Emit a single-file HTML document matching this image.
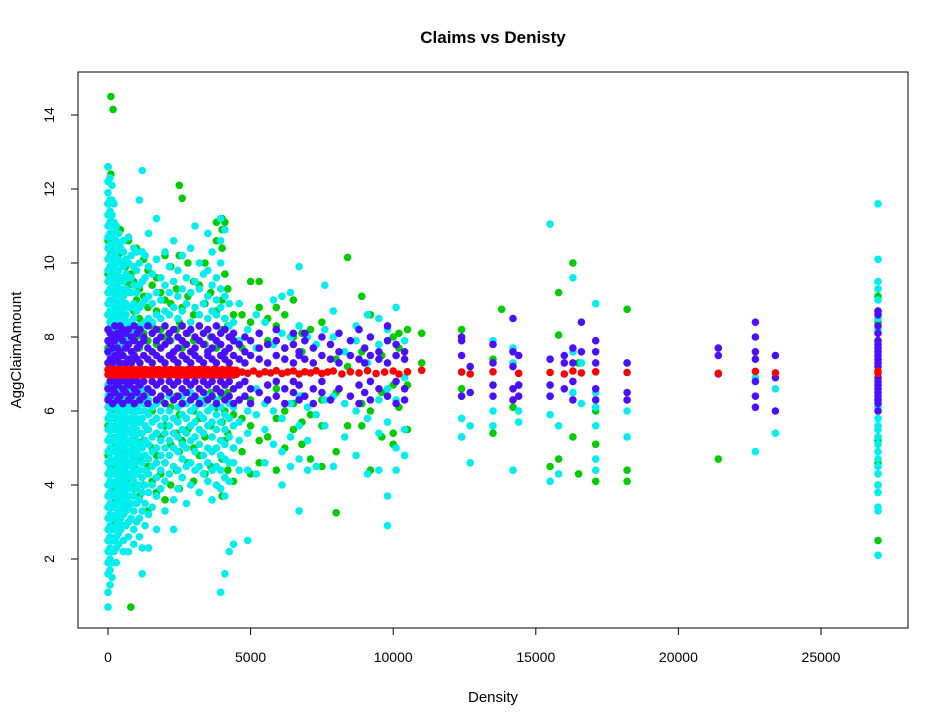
<!DOCTYPE html>
<html><head><meta charset="utf-8"><title>Claims vs Denisty</title>
<style>html,body{margin:0;padding:0;background:#fff;}svg{display:block;font-family:"Liberation Sans",Arial,sans-serif;}</style>
</head><body>
<svg id="chart" width="947" height="719" viewBox="0 0 947 719" xmlns="http://www.w3.org/2000/svg">
<rect x="0" y="0" width="947" height="719" fill="#fff"/>
<text x="493" y="43" text-anchor="middle" font-size="17" font-weight="bold">Claims vs Denisty</text>
<g id="pts"></g>
<rect x="78" y="72" width="830" height="556" fill="none" stroke="#000" stroke-width="1"/>
<g id="axes"></g>
<text x="493" y="702" text-anchor="middle" font-size="15">Density</text>
<text x="0" y="0" transform="translate(21,350) rotate(-90)" text-anchor="middle" font-size="15">AggClaimAmount</text>
</svg>
<script>
const xTicks = [0, 5000, 10000, 15000, 20000, 25000];
const yTicks = [2, 4, 6, 8, 10, 12, 14];
// column-based data: density value and list of AggClaimAmount values at that density
const cyanX = [0,70,140,210,290,370,450,540,630,720,810,900,1000,1100,1200,1300,1420,1550,1700,1850,2000,2150,2300,2450,2600,2750,2900,3050,3200,3350,3500,3650,3800,3950,4100,4250,4400,4600,4900,5200,5500,5800,6100,6400,6700,7000,7300,7600,7900,8300,8700,9100,9500,9800,10100,10400,12400,12700,13500,14200,14400,15500,15800,16300,16600,17100,18200,22700,23400,27000];
const cyanY = [
[0.7,1.1,1.6,1.9,2.2,2.5,2.8,3.1,3.4,3.7,4.0,4.3,4.6,4.9,5.2,5.5,5.8,6.1,6.4,6.7,7.3,7.6,7.9,8.2,8.6,8.9,9.2,9.5,9.8,10.1,10.4,10.7,11.0,11.3,11.6,11.9,12.2,12.6],
[1.3,1.7,2.0,2.3,2.6,2.9,3.2,3.5,3.8,4.1,4.4,4.7,5.0,5.3,5.6,5.9,6.2,6.5,6.8,7.5,7.8,8.1,8.4,8.7,9.0,9.3,9.6,9.9,10.2,10.5,10.8,11.1,11.4,11.7,12.3],
[1.5,1.9,2.2,2.5,2.8,3.1,3.4,3.7,4.0,4.3,4.6,4.9,5.2,5.5,5.8,6.1,6.4,6.7,7.4,7.7,8.0,8.3,8.6,8.9,9.2,9.5,9.8,10.1,10.4,10.7,11.0,11.3,11.7,12.1],
[2.2,2.5,2.8,3.1,3.4,3.7,4.0,4.3,4.6,4.9,5.2,5.5,5.8,6.1,6.4,6.7,7.5,7.8,8.1,8.4,8.7,9.0,9.3,9.6,9.9,10.2,10.5,10.8,11.1,11.6],
[1.9,2.3,2.6,2.9,3.2,3.5,3.8,4.1,4.4,4.7,5.0,5.3,5.6,5.9,6.2,6.5,7.6,7.9,8.2,8.5,8.8,9.1,9.4,9.7,10.0,10.3,10.6,11.0],
[2.4,2.7,3.0,3.3,3.6,3.9,4.2,4.5,4.8,5.1,5.4,5.7,6.0,6.3,6.6,7.7,8.0,8.3,8.6,8.9,9.2,9.5,9.8,10.1,10.5,10.8],
[2.8,3.1,3.4,3.7,4.0,4.3,4.6,4.9,5.2,5.5,5.8,6.1,6.4,6.7,7.8,8.1,8.4,8.7,9.0,9.3,9.6,10.0,10.4],
[2.2,2.5,2.9,3.2,3.5,3.8,4.1,4.4,4.7,5.0,5.3,5.6,5.9,6.2,6.5,7.8,8.2,8.5,8.8,9.1,9.5,9.9,10.3,10.6],
[2.9,3.3,3.6,3.9,4.2,4.5,4.8,5.1,5.4,5.7,6.0,6.3,6.6,7.9,8.3,8.6,8.9,9.3,9.7,10.1],
[2.2,2.6,3.0,3.4,3.7,4.0,4.3,4.6,4.9,5.2,5.5,5.8,6.1,6.4,7.9,8.4,8.8,9.2,9.6,10.0,10.7],
[3.1,3.5,3.9,4.2,4.5,4.8,5.1,5.4,5.7,6.0,6.3,6.6,8.0,8.4,8.8,9.2,9.6,10.2],
[2.4,2.8,3.3,3.7,4.1,4.4,4.7,5.0,5.3,5.6,5.9,6.2,6.5,8.1,8.5,8.9,9.4,9.9,10.4],
[3.0,3.5,3.9,4.3,4.6,4.9,5.2,5.5,5.8,6.1,6.4,8.2,8.7,9.2,9.8,10.3],
[2.6,3.1,3.6,4.0,4.4,4.8,5.1,5.4,5.7,6.0,6.3,8.3,8.8,9.4,10.0,11.7],
[1.6,2.3,3.3,3.8,4.2,4.6,5.0,5.4,5.8,6.2,6.6,8.3,8.9,9.5,10.3,12.5],
[2.9,3.5,4.0,4.4,4.8,5.2,5.6,6.0,6.4,8.4,9.0,9.6,10.2],
[2.3,3.2,3.8,4.3,4.7,5.1,5.5,5.9,6.3,8.5,9.1,9.9,10.8],
[3.4,4.0,4.5,4.9,5.3,5.7,6.1,6.5,8.4,8.9,9.7],
[2.8,3.7,4.2,4.6,5.0,5.4,5.8,6.2,8.6,9.2,10.1,11.2],
[3.9,4.4,4.8,5.2,5.6,6.0,6.4,8.5,9.0,9.6],
[3.3,4.1,4.6,5.0,5.4,5.8,6.2,8.7,9.4,10.3],
[4.3,4.8,5.2,5.6,6.0,6.4,8.6,9.2,9.9],
[2.8,3.6,4.5,5.0,5.4,5.8,6.3,8.8,9.5,10.6],
[3.9,4.4,4.9,5.3,5.7,6.1,8.5,9.1,9.8],
[4.2,4.7,5.1,5.5,5.9,6.4,8.7,9.3,10.2],
[3.5,4.5,5.0,5.4,5.8,6.2,8.9,9.6],
[4.0,4.6,5.2,5.6,6.0,6.5,8.4,9.2,10.4],
[4.4,4.9,5.3,5.7,6.1,8.8,9.5,11.0],
[3.8,4.5,5.1,5.5,5.9,6.3,8.6,9.3,10.0],
[4.3,4.8,5.4,5.8,6.2,8.9,9.7],
[4.1,4.6,5.0,5.6,6.0,6.4,8.5,9.1,9.8,10.8],
[3.6,4.4,4.9,5.3,5.7,6.1,8.7,9.4,10.3],
[4.0,4.5,5.0,5.5,5.9,6.3,8.6,9.0,9.6],
[1.1,3.9,4.4,4.8,5.2,5.7,6.1,6.5,8.8,9.3,10.0,10.6,11.2],
[1.6,3.7,4.2,4.7,5.1,5.5,5.9,8.5,9.1,10.9],
[2.2,4.1,4.6,5.3,5.8,6.2,8.3,8.9],
[2.4,4.6,5.0,5.6,6.1,8.4],
[4.4,5.2,5.7,6.3,7.9,8.9],
[2.5,4.4,5.4,6.0,8.2],
[4.3,5.9,6.6,7.7,8.6],
[4.6,5.5,6.2,8.4],
[5.1,6.0,7.8,9.0],
[4.0,4.9,5.8,8.1,9.1],
[4.5,5.3,6.2,8.0,9.2],
[3.3,4.7,5.6,6.4,8.3,9.9],
[4.4,5.2,6.1,8.0],
[4.5,5.9,7.8],
[5.6,6.3,8.2,9.4],
[4.5,6.4,8.0,8.7],
[5.3,6.2,7.6],
[4.8,6.0,7.9,8.3],
[4.3,5.8,7.3,8.6],
[4.4,5.4,6.3,7.8,8.5],
[2.9,3.7,5.7,6.6,8.2],
[4.4,5.0,6.3,7.5,8.8],
[4.8,5.5,6.9,7.9],
[5.8,5.3,6.4],
[4.6,5.6],
[5.6,6.0,7.9],
[4.4,7.3,7.7],
[6.0,6.7,5.7],
[4.1,5.9,11.05],
[4.3,5.6],
[9.6,7.6,6.5],
[6.2,7.3],
[4.4,4.7,5.6,6.1,6.5,8.9],
[5.3,6.0,7.3],
[4.9,6.9],
[5.4,6.6],
[2.1,3.3,3.4,3.8,4.0,4.3,4.5,4.7,4.9,5.1,5.3,5.5,5.6,5.8,6.0,6.1,6.3,6.5,7.4,7.6,7.9,8.2,8.5,8.7,9.0,9.3,9.5,10.1,11.6]
];
const greenX = [0,100,180,260,350,440,530,620,720,800,900,1000,1100,1250,1400,1550,1700,1850,2000,2200,2400,2500,2600,2800,3000,3200,3400,3600,3800,4000,4100,4200,4400,4700,5000,5300,5600,5900,6200,6500,6800,7100,7500,8000,8400,8900,9200,9600,10000,10200,10500,11000,12400,13500,13800,14200,15500,15800,16300,16500,17100,18200,21400,27000];
const greenY = [
[4.8,5.6,6.6,7.7,8.6,9.7,10.6,11.6,12.6],
[3.4,4.5,5.3,6.3,7.4,8.3,9.3,10.3,11.1,12.4,14.5],
[2.9,3.9,5.0,6.0,7.6,8.5,9.5,10.5,14.15],
[3.6,4.4,5.6,6.6,7.6,8.8,9.8,11.0],
[4.0,5.0,6.2,7.3,8.4,9.1,10.2],
[3.2,4.4,5.4,6.4,7.7,8.6,9.6,10.9],
[3.8,4.8,5.8,7.5,8.1,9.2,10.3],
[4.1,5.2,6.3,7.8,8.9,9.9],
[3.5,4.6,5.5,6.5,8.2,9.4,10.6],
[0.7,4.2,5.1,6.1,7.4,8.4,9.7],
[3.9,4.9,6.0,7.6,8.7,9.5],
[4.4,5.4,6.4,8.0,9.0,10.4],
[3.7,4.7,5.7,7.7,8.5,9.3],
[4.0,5.2,6.2,8.1,9.1,10.1],
[3.3,4.5,5.5,6.5,7.9,8.8,9.8],
[4.1,5.0,6.0,8.3,9.4],
[3.8,4.8,5.8,7.8,8.7,9.6],
[4.3,5.3,6.3,8.2,9.2],
[3.6,4.6,5.6,6.6,8.0,9.0,10.2],
[4.0,5.1,6.1,7.9,8.9,9.9],
[4.4,5.4,6.4,8.2,9.3],
[3.9,4.9,5.9,8.4,10.2,12.1],
[4.2,5.2,6.2,7.7,8.8,11.75],
[4.6,5.5,6.5,8.1,9.1,10.0],
[4.1,5.0,6.0,7.9,8.6,9.5],
[3.8,4.8,5.8,8.3,9.4],
[4.3,5.3,6.3,7.8,8.9,10.0],
[4.5,5.6,6.5,8.0,9.2],
[4.0,5.0,6.1,7.7,8.7,10.6,11.1],
[3.7,4.7,5.7,6.4,8.2,9.0,10.4,10.9,11.2],
[4.2,5.2,6.0,7.6,8.5,9.7,11.1],
[4.4,5.4,6.5,8.3,9.3],
[4.1,5.0,5.9,7.9,8.6],
[4.9,5.8,7.7,8.6],
[4.3,5.6,6.3,8.4,9.5],
[4.6,5.2,8.1,8.8,9.5],
[5.3,6.3,7.9,8.5],
[4.4,5.8,6.6,8.3,8.8],
[5.0,6.0,7.7,8.6],
[5.5,6.2,8.0,9.0],
[5.1,5.7,6.4,7.6,8.1],
[4.7,5.9,8.2],
[4.5,5.6,6.3,8.4],
[3.25,4.9,6.5,7.4],
[10.15,5.6,7.2],
[5.6,6.2,7.6,9.1],
[4.4,6.0,8.6],
[5.3,6.5,7.5],
[5.1,5.4,6.7,8.0],
[7.7,8.1,6.1],
[6.7,8.2,5.5],
[7.3,8.1],
[8.2,6.6,5.3],
[5.4,7.4],
[8.75],
[6.1],
[4.5,6.4],
[8.05,9.2,4.7],
[10.0,5.3],
[4.3,7.3],
[4.1,5.1,6.0],
[4.1,4.4,8.75],
[4.7],
[2.5,4.0,5.2,5.3,4.6,9.1,8.4]
];
const blueX = [0,80,160,240,330,420,520,620,720,820,920,1020,1120,1250,1400,1550,1700,1850,2000,2150,2300,2450,2600,2750,2900,3050,3200,3350,3500,3650,3800,3950,4100,4250,4400,4600,4800,5000,5300,5600,5900,6200,6500,6700,6900,7200,7500,7800,8100,8500,8800,9000,9200,9500,9800,10100,10400,12400,12700,13500,14200,14400,15500,16000,16300,16600,17100,18200,21400,22700,23400,27000];
const blueY = [
[6.3,6.6,7.3,7.6,7.9,8.2],[6.4,6.8,7.4,7.8,8.1],[6.2,6.6,7.3,7.7,8.0],[6.5,6.8,7.5,7.9,8.3],
[6.3,6.7,7.4,7.7,8.1],[6.4,6.8,7.3,7.6,8.0,8.3],[6.2,6.6,7.5,7.9,8.2],[6.5,6.8,7.3,7.7,8.1],
[6.3,6.7,7.4,7.8,8.2],[6.4,6.8,7.3,7.6,8.0],[6.2,6.6,7.5,7.9,8.3],[6.5,6.8,7.4,7.7,8.1],
[6.3,6.7,7.3,7.8,8.2],[6.4,6.8,7.5,7.9,8.0],[6.2,6.6,7.4,7.7,8.3],[6.5,6.8,7.3,7.6,8.1],
[6.3,6.7,7.5,7.9,8.2],[6.4,6.8,7.4,7.7,8.0],[6.2,6.6,7.3,7.8,8.3],[6.5,6.8,7.5,7.9,8.1],
[6.3,6.7,7.4,7.6,8.2],[6.4,6.8,7.3,7.7,8.0],[6.2,6.6,7.5,7.9,8.3],[6.5,6.8,7.4,7.8,8.1],
[6.3,6.7,7.3,7.6,8.2],[6.4,6.8,7.5,7.7,8.0],[6.2,6.6,7.4,7.9,8.3],[6.5,6.8,7.3,7.8,8.1],
[6.3,6.7,7.5,7.6,8.2],[6.4,6.8,7.4,7.7,8.0],[6.2,6.6,7.3,7.9,8.3],[6.5,6.8,7.5,7.8,8.1],
[6.3,6.7,7.4,7.6,8.2],[6.4,6.8,7.3,7.7,8.0],[6.2,6.6,7.5,7.9,8.1],[6.3,6.7,7.4,7.8],
[6.4,6.8,7.3,7.6,8.0],[6.2,6.6,7.5,7.9],[6.5,7.4,7.7,8.1],[6.3,6.7,7.3,7.8],
[6.4,6.8,7.5,7.9,8.2],[6.2,6.6,7.4,7.7],[6.5,6.8,7.3,7.8,8.1],[6.3,6.7,7.5,7.6],
[6.4,7.4,7.9,8.1],[6.2,6.6,7.3,7.7],[6.5,6.8,7.5,8.0],[6.3,7.4,7.8],
[6.6,7.3,7.6,8.1],[6.4,7.5,7.9],[6.2,6.7,7.4,8.2],[6.5,7.3,7.7],
[6.3,6.8,7.5,8.0],[6.6,7.4,7.6],[6.4,7.3,7.9,8.3],[6.2,6.8,7.5,7.8],
[6.3,6.6,7.4,7.6],
[6.4,7.5,7.9,8.0],[6.5,7.2],[6.4,6.7,7.3,7.8],[6.3,6.6,7.2,7.6,8.5],[6.7,7.5,6.4],
[6.4,6.7,7.4],[6.6,7.5,7.3],[6.3,6.8,7.3,7.7],[8.4,7.6],[6.3,6.6,7.3,7.6,7.9],[6.3,6.5,7.3],
[7.0,7.5,7.7],[6.1,6.4,6.8,7.4,7.6,8.0,8.4],[6.0,6.9,7.5],
[6.0,6.2,6.3,6.4,6.5,6.6,6.7,6.8,6.9,7.2,7.3,7.4,7.5,7.6,7.7,7.8,7.9,8.1,8.3,8.6,8.7]
];
const redX = [0,60,120,180,240,300,360,420,480,540,600,660,720,800,880,960,1040,1120,1200,1300,1400,1500,1600,1700,1800,1900,2000,2100,2200,2300,2400,2500,2600,2700,2800,2900,3000,3100,3200,3300,3400,3500,3600,3700,3800,3900,4000,4100,4200,4300,4400,4500,4700,4900,5100,5300,5500,5700,5900,6100,6300,6500,6700,6900,7100,7300,7500,7700,7900,8200,8500,8800,9100,9400,9700,10000,10200,10500,11000,12400,12700,13500,14400,15500,16000,16300,16600,17100,18200,21400,22700,23400,27000];
const redY = [
[6.98,7.12],[6.97,7.13],[6.98,7.12],[6.99,7.11],[6.97,7.1],[6.97,7.12],[6.98,7.11],[6.99,7.12],[6.97,7.1],[6.98,7.12],[6.98,7.11],[6.99,7.1],[6.97,7.12],[7.0,7.13],[6.98,7.1],[6.97,7.12],[6.99,7.1],[6.98,7.12],[6.97,7.11],[6.99,7.12],[6.98,7.11],[6.97,7.1],[6.99,7.12],[6.98,7.11],[6.97,7.12],[6.98,7.1],[6.99,7.12],[6.97,7.11],[6.98,7.12],[6.99,7.1],[6.97,7.12],[6.98,7.12],[6.97,7.11],[6.99,7.1],[6.98,7.12],[6.97,7.1],[6.99,7.12],[6.98,7.11],[6.97,7.12],[6.99,7.1],[6.98,7.11],[6.97,7.12],[6.99,7.1],[6.98,7.12],[6.97,7.11],[6.98,7.1],[6.99,7.12],[6.97,7.1],[6.98,7.12],[6.99,7.11],[6.97,7.1],[6.99,7.1],[7.05],[7.02],[7.08],[7.0],[7.06],[7.03],[7.09],[7.01],[7.05],[7.08],[7.0],[7.06],[7.03],[7.09],[7.01],[7.05],[7.08],[7.0],[7.06],[7.03],[7.09],[7.01],[7.05],[7.08],[7.0],[7.06],[7.1],[7.05],[7.0],[7.06],[7.02],[7.04],[7.0],[7.08],[7.03],[7.06],[7.04],[7.02],[7.07],[7.03],[7.02,7.08]
];
const NS = 'http://www.w3.org/2000/svg';
const X0 = 108, XS = 713 / 25000;
const Y0 = 559, YS = 37;
function sx(v){ return X0 + v * XS; }
function sy(v){ return Y0 - (v - 2) * YS; }
const pts = document.getElementById('pts');
function drawSeries(xs, ys, color, name){
  xs.forEach(function(xv, i){
    (ys[i] || []).forEach(function(yv){
      const c = document.createElementNS(NS, 'circle');
      c.setAttribute('cx', sx(xv).toFixed(1));
      c.setAttribute('cy', sy(yv).toFixed(1));
      c.setAttribute('r', 3.8);
      c.setAttribute('fill', color);
      
      
      pts.appendChild(c);
    });
  });
}
drawSeries(greenX, greenY, '#00cd00', 'point-green');
drawSeries(cyanX, cyanY, '#00eeee', 'point-cyan');
drawSeries(blueX, blueY, '#4b0fff', 'point-blue');
drawSeries(redX, redY, '#ff0000', 'point-red');

const axes = document.getElementById('axes');
function line(x1,y1,x2,y2,name){
  const l = document.createElementNS(NS,'line');
  l.setAttribute('x1',x1);l.setAttribute('y1',y1);l.setAttribute('x2',x2);l.setAttribute('y2',y2);
  l.setAttribute('stroke','#000');
  
  
  axes.appendChild(l);
}
function txt(x,y,s,rot,name){
  const t = document.createElementNS(NS,'text');
  t.setAttribute('text-anchor','middle');
  t.setAttribute('font-size','14');
  if(rot){ t.setAttribute('transform','translate('+x+','+y+') rotate(-90)'); }
  else { t.setAttribute('x',x); t.setAttribute('y',y); }
  t.textContent = s;
  
  
  axes.appendChild(t);
}
line(sx(xTicks[0]),628,sx(xTicks[xTicks.length-1]),628,'x-axis-line');
xTicks.forEach(function(v){
  line(sx(v),628,sx(v),635,'x-tick');
  txt(sx(v),662,String(v),false,'x-tick-label');
});
line(78,sy(yTicks[0]),78,sy(yTicks[yTicks.length-1]),'y-axis-line');
yTicks.forEach(function(v){
  line(71,sy(v),78,sy(v),'y-tick');
  txt(54,sy(v),String(v),true,'y-tick-label');
});
</script>
</body></html>
